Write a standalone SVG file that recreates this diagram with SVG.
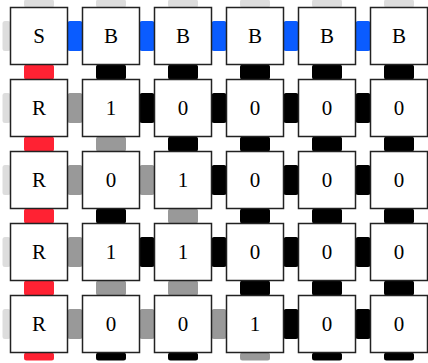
<svg xmlns="http://www.w3.org/2000/svg" width="428" height="363" viewBox="0 0 428 363">
<style>
.n rect{fill:#fff;stroke:#222;stroke-width:1.5}
.n text{font-family:"Liberation Serif","Times New Roman",serif;font-size:21px;fill:#000;text-anchor:middle}
.c rect{rx:2.5;ry:2.5}
.k{fill:#000}.g{fill:#999}.l{fill:#ddd}.b{fill:#0a5cff}.r{fill:#ff2233}
</style>
<g id="connectors" class="c">
<rect class="l" x="24" y="-0.5" width="30" height="8"/>
<rect class="l" x="96" y="-0.5" width="30" height="8"/>
<rect class="l" x="168" y="-0.5" width="30" height="8"/>
<rect class="l" x="240" y="-0.5" width="30" height="8"/>
<rect class="l" x="312" y="-0.5" width="30" height="8"/>
<rect class="l" x="384" y="-0.5" width="30" height="8"/>
<rect class="l" x="2.5" y="21" width="8" height="30"/>
<rect class="l" x="2.5" y="93" width="8" height="30"/>
<rect class="l" x="2.5" y="165" width="8" height="30"/>
<rect class="l" x="2.5" y="237" width="8" height="30"/>
<rect class="l" x="2.5" y="309" width="8" height="30"/>
<rect class="b" x="67.5" y="21" width="15" height="30"/>
<rect class="b" x="139.5" y="21" width="15" height="30"/>
<rect class="b" x="211.5" y="21" width="15" height="30"/>
<rect class="b" x="283.5" y="21" width="15" height="30"/>
<rect class="b" x="355.5" y="21" width="15" height="30"/>
<rect class="g" x="67.5" y="93" width="15" height="30"/>
<rect class="k" x="139.5" y="93" width="15" height="30"/>
<rect class="k" x="211.5" y="93" width="15" height="30"/>
<rect class="k" x="283.5" y="93" width="15" height="30"/>
<rect class="k" x="355.5" y="93" width="15" height="30"/>
<rect class="g" x="67.5" y="165" width="15" height="30"/>
<rect class="g" x="139.5" y="165" width="15" height="30"/>
<rect class="k" x="211.5" y="165" width="15" height="30"/>
<rect class="k" x="283.5" y="165" width="15" height="30"/>
<rect class="k" x="355.5" y="165" width="15" height="30"/>
<rect class="g" x="67.5" y="237" width="15" height="30"/>
<rect class="k" x="139.5" y="237" width="15" height="30"/>
<rect class="k" x="211.5" y="237" width="15" height="30"/>
<rect class="k" x="283.5" y="237" width="15" height="30"/>
<rect class="k" x="355.5" y="237" width="15" height="30"/>
<rect class="g" x="67.5" y="309" width="15" height="30"/>
<rect class="g" x="139.5" y="309" width="15" height="30"/>
<rect class="g" x="211.5" y="309" width="15" height="30"/>
<rect class="k" x="283.5" y="309" width="15" height="30"/>
<rect class="k" x="355.5" y="309" width="15" height="30"/>
<rect class="r" x="24" y="64.5" width="30" height="15"/>
<rect class="r" x="24" y="136.5" width="30" height="15"/>
<rect class="r" x="24" y="208.5" width="30" height="15"/>
<rect class="r" x="24" y="280.5" width="30" height="15"/>
<rect class="r" x="24" y="352.5" width="30" height="8"/>
<rect class="k" x="96" y="64.5" width="30" height="15"/>
<rect class="g" x="96" y="136.5" width="30" height="15"/>
<rect class="k" x="96" y="208.5" width="30" height="15"/>
<rect class="g" x="96" y="280.5" width="30" height="15"/>
<rect class="k" x="96" y="352.5" width="30" height="8"/>
<rect class="k" x="168" y="64.5" width="30" height="15"/>
<rect class="k" x="168" y="136.5" width="30" height="15"/>
<rect class="g" x="168" y="208.5" width="30" height="15"/>
<rect class="g" x="168" y="280.5" width="30" height="15"/>
<rect class="k" x="168" y="352.5" width="30" height="8"/>
<rect class="k" x="240" y="64.5" width="30" height="15"/>
<rect class="k" x="240" y="136.5" width="30" height="15"/>
<rect class="k" x="240" y="208.5" width="30" height="15"/>
<rect class="k" x="240" y="280.5" width="30" height="15"/>
<rect class="g" x="240" y="352.5" width="30" height="8"/>
<rect class="k" x="312" y="64.5" width="30" height="15"/>
<rect class="k" x="312" y="136.5" width="30" height="15"/>
<rect class="k" x="312" y="208.5" width="30" height="15"/>
<rect class="k" x="312" y="280.5" width="30" height="15"/>
<rect class="k" x="312" y="352.5" width="30" height="8"/>
<rect class="k" x="384" y="64.5" width="30" height="15"/>
<rect class="k" x="384" y="136.5" width="30" height="15"/>
<rect class="k" x="384" y="208.5" width="30" height="15"/>
<rect class="k" x="384" y="280.5" width="30" height="15"/>
<rect class="k" x="384" y="352.5" width="30" height="8"/>
</g>
<g id="n0_0" class="n"><rect x="10.5" y="7.5" width="57" height="57"/><text x="39" y="43.3">S</text></g>
<g id="n0_1" class="n"><rect x="82.5" y="7.5" width="57" height="57"/><text x="111" y="43.3">B</text></g>
<g id="n0_2" class="n"><rect x="154.5" y="7.5" width="57" height="57"/><text x="183" y="43.3">B</text></g>
<g id="n0_3" class="n"><rect x="226.5" y="7.5" width="57" height="57"/><text x="255" y="43.3">B</text></g>
<g id="n0_4" class="n"><rect x="298.5" y="7.5" width="57" height="57"/><text x="327" y="43.3">B</text></g>
<g id="n0_5" class="n"><rect x="370.5" y="7.5" width="57" height="57"/><text x="399" y="43.3">B</text></g>
<g id="n1_0" class="n"><rect x="10.5" y="79.5" width="57" height="57"/><text x="39" y="115.3">R</text></g>
<g id="n1_1" class="n"><rect x="82.5" y="79.5" width="57" height="57"/><text x="111" y="115.3">1</text></g>
<g id="n1_2" class="n"><rect x="154.5" y="79.5" width="57" height="57"/><text x="183" y="115.3">0</text></g>
<g id="n1_3" class="n"><rect x="226.5" y="79.5" width="57" height="57"/><text x="255" y="115.3">0</text></g>
<g id="n1_4" class="n"><rect x="298.5" y="79.5" width="57" height="57"/><text x="327" y="115.3">0</text></g>
<g id="n1_5" class="n"><rect x="370.5" y="79.5" width="57" height="57"/><text x="399" y="115.3">0</text></g>
<g id="n2_0" class="n"><rect x="10.5" y="151.5" width="57" height="57"/><text x="39" y="187.3">R</text></g>
<g id="n2_1" class="n"><rect x="82.5" y="151.5" width="57" height="57"/><text x="111" y="187.3">0</text></g>
<g id="n2_2" class="n"><rect x="154.5" y="151.5" width="57" height="57"/><text x="183" y="187.3">1</text></g>
<g id="n2_3" class="n"><rect x="226.5" y="151.5" width="57" height="57"/><text x="255" y="187.3">0</text></g>
<g id="n2_4" class="n"><rect x="298.5" y="151.5" width="57" height="57"/><text x="327" y="187.3">0</text></g>
<g id="n2_5" class="n"><rect x="370.5" y="151.5" width="57" height="57"/><text x="399" y="187.3">0</text></g>
<g id="n3_0" class="n"><rect x="10.5" y="223.5" width="57" height="57"/><text x="39" y="259.3">R</text></g>
<g id="n3_1" class="n"><rect x="82.5" y="223.5" width="57" height="57"/><text x="111" y="259.3">1</text></g>
<g id="n3_2" class="n"><rect x="154.5" y="223.5" width="57" height="57"/><text x="183" y="259.3">1</text></g>
<g id="n3_3" class="n"><rect x="226.5" y="223.5" width="57" height="57"/><text x="255" y="259.3">0</text></g>
<g id="n3_4" class="n"><rect x="298.5" y="223.5" width="57" height="57"/><text x="327" y="259.3">0</text></g>
<g id="n3_5" class="n"><rect x="370.5" y="223.5" width="57" height="57"/><text x="399" y="259.3">0</text></g>
<g id="n4_0" class="n"><rect x="10.5" y="295.5" width="57" height="57"/><text x="39" y="331.3">R</text></g>
<g id="n4_1" class="n"><rect x="82.5" y="295.5" width="57" height="57"/><text x="111" y="331.3">0</text></g>
<g id="n4_2" class="n"><rect x="154.5" y="295.5" width="57" height="57"/><text x="183" y="331.3">0</text></g>
<g id="n4_3" class="n"><rect x="226.5" y="295.5" width="57" height="57"/><text x="255" y="331.3">1</text></g>
<g id="n4_4" class="n"><rect x="298.5" y="295.5" width="57" height="57"/><text x="327" y="331.3">0</text></g>
<g id="n4_5" class="n"><rect x="370.5" y="295.5" width="57" height="57"/><text x="399" y="331.3">0</text></g>
</svg>
